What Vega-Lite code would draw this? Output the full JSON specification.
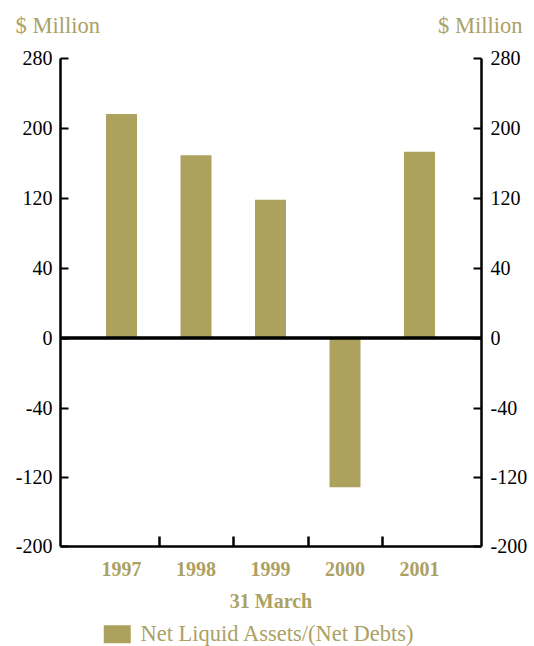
{
  "$schema": "https://vega.github.io/schema/vega-lite/v6.json",
  "width": 421,
  "height": 488,
  "autosize": {"type": "none"},
  "padding": {"left": 60, "top": 58, "right": 53, "bottom": 100},
  "background": "white",
  "config": {
    "view": {"stroke": null},
    "font": "Liberation Serif",
    "axis": {"grid": false}
  },
  "data": {
    "values": [
      {"year": "1997", "value": 216, "series": "Net Liquid Assets/(Net Debts)"},
      {"year": "1998", "value": 169, "series": "Net Liquid Assets/(Net Debts)"},
      {"year": "1999", "value": 118, "series": "Net Liquid Assets/(Net Debts)"},
      {"year": "2000", "value": -132, "series": "Net Liquid Assets/(Net Debts)"},
      {"year": "2001", "value": 173, "series": "Net Liquid Assets/(Net Debts)"}
    ]
  },
  "layer": [
    {
      "mark": {"type": "bar", "color": "#ADA15E"},
      "encoding": {
        "x": {
          "field": "year", "type": "nominal",
          "scale": {"paddingInner": 0.584, "paddingOuter": 0.6175},
          "axis": {
            "orient": "bottom", "ticks": false, "domain": true, "domainColor": "black", "domainWidth": 2.5,
            "labelAngle": 0, "labelFont": "Liberation Serif", "labelFontSize": 20, "labelFontWeight": "bold",
            "labelColor": "#ACA163", "labelPadding": 13,
            "title": "31 March", "titleFont": "Liberation Serif", "titleFontSize": 20, "titleFontWeight": "bold",
            "titleColor": "#ACA163", "titleBaseline": "alphabetic", "titleY": 61
          }
        },
        "y": {
          "field": "value", "type": "quantitative",
          "scale": {"domain": [-200, -40, 40, 280], "range": [488, 350, 210, 0], "zero": false, "nice": false},
          "axis": {
            "orient": "left", "values": [-200, -120, -40, 0, 40, 120, 200, 280],
            "labelExpr": "datum.value < 0 ? '-' + abs(datum.value) : '' + datum.value",
            "domainColor": "black", "domainWidth": 2.5, "tickColor": "black", "tickWidth": 2, "tickSize": -8,
            "labelPadding": 16, "labelFont": "Liberation Serif", "labelFontSize": 20, "labelColor": "black",
            "title": "$ Million", "titleAngle": 0, "titleAlign": "left", "titleBaseline": "alphabetic",
            "titleX": -45, "titleY": -26, "titleFont": "Liberation Serif", "titleFontSize": 22.5,
            "titleFontWeight": "normal", "titleColor": "#ACA163"
          }
        },
        "color": {
          "field": "series", "type": "nominal",
          "scale": {"range": ["#ADA15E"]},
          "legend": {
            "title": null, "orient": "none", "legendX": 46, "legendY": 565, "padding": 0,
            "symbolType": "M-1.5,-1H1.5V1H-1.5Z", "symbolSize": 324, "symbolStrokeWidth": 0,
            "labelFont": "Liberation Serif", "labelFontSize": 22.5, "labelColor": "#ACA163", "labelOffset": 12,
            "labelLimit": 400
          }
        }
      }
    },
    {
      "mark": {"type": "rule", "color": "black", "strokeWidth": 2.5},
      "encoding": {"y": {"datum": 0, "type": "quantitative", "axis": null}}
    },
    {
      "mark": {"type": "bar", "opacity": 0},
      "encoding": {
        "x": {
          "field": "year", "type": "nominal",
          "scale": {"paddingInner": 0.584, "paddingOuter": 0.6175},
          "axis": {
            "orient": "bottom", "values": ["1998", "1999", "2000", "2001"], "labels": false, "domain": false,
            "ticks": true, "tickColor": "black", "tickWidth": 2.5, "tickSize": -10, "bandPosition": 0.5,
            "tickOffset": -37.25, "title": null
          }
        },
        "y": {
          "field": "value", "type": "quantitative",
          "scale": {"domain": [-200, -40, 40, 280], "range": [488, 350, 210, 0], "zero": false, "nice": false},
          "axis": {
            "orient": "right", "values": [-200, -120, -40, 0, 40, 120, 200, 280],
            "labelExpr": "datum.value < 0 ? '-' + abs(datum.value) : '' + datum.value",
            "domainColor": "black", "domainWidth": 2.5, "tickColor": "black", "tickWidth": 2, "tickSize": -8,
            "labelPadding": 17, "labelFont": "Liberation Serif", "labelFontSize": 20, "labelColor": "black",
            "title": "$ Million", "titleAngle": 0, "titleAlign": "right", "titleBaseline": "alphabetic",
            "titleX": 41, "titleY": -26, "titleFont": "Liberation Serif", "titleFontSize": 22.5,
            "titleFontWeight": "normal", "titleColor": "#ACA163"
          }
        }
      }
    }
  ],
  "resolve": {"axis": {"x": "independent", "y": "independent"}}
}
